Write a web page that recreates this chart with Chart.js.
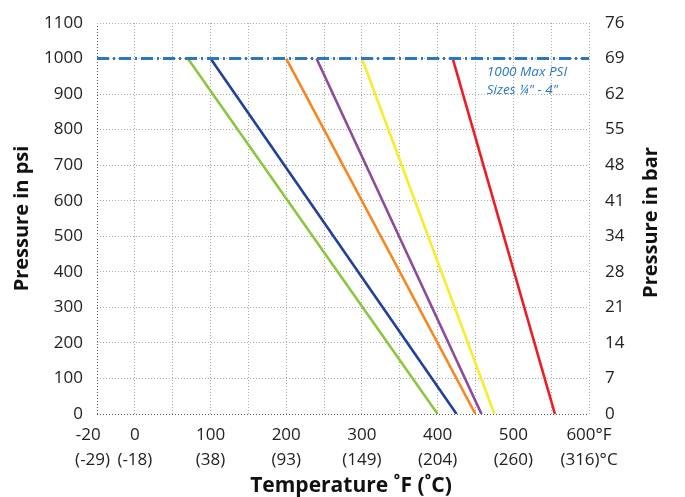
<!DOCTYPE html>
<html>
<head>
<meta charset="utf-8">
<script src="https://cdn.jsdelivr.net/npm/chart.js@4.4.0/dist/chart.umd.min.js"></script>
<style>
    html, body { margin: 0; padding: 0; background: #fff; }
    #wrap { position: relative; width: 685px; height: 497px; }
</style>
</head>
<body>
<div id="wrap"><canvas id="myChart"></canvas></div>
<script>
// x axis: where the labels sit (deg F) and what they print
const tempTicks = [-50, 0, 100, 200, 300, 400, 500, 600];
const tempLabelsF = ['-20', '0', '100', '200', '300', '400', '500', '600°F'];
const tempLabelsC = ['(-29)', '(-18)', '(38)', '(93)', '(149)', '(204)', '(260)', '(316)°C'];

// y axes
const psiTicks = [0, 100, 200, 300, 400, 500, 600, 700, 800, 900, 1000, 1100];
const barTicks = [0, 7, 14, 21, 28, 34, 41, 48, 55, 62, 69, 76];

const maxPsi = 1000;
const maxNote = ['1000 Max PSI', 'Sizes ¼" - 4"'];

// rating lines: temperature at 1000 psi and at 0 psi
const lineColors = ['#8cc63f', '#21409a', '#f7861f', '#8b4a9c', '#f8ec2c', '#ed1c24'];
const tempAtMax = [70, 100, 200, 240, 300, 420];
const tempAtZero = [400, 425, 450, 458, 475, 555];

Chart.defaults.font.family = "'Open Sans', sans-serif";
Chart.defaults.color = '#222';

const datasets = [{
    data: [{x: -50, y: maxPsi}, {x: 600, y: maxPsi}],
    borderColor: '#2a78c2',
    borderWidth: 3,
    borderDash: [12, 4, 2, 4],
    pointRadius: 0
}];
lineColors.forEach((c, i) => {
    datasets.push({
        data: [{x: tempAtMax[i], y: maxPsi}, {x: tempAtZero[i], y: 0}],
        borderColor: c,
        borderWidth: 2.6,
        pointRadius: 0
    });
});

const gridColor = edges => ctx => (ctx.tick && edges.includes(ctx.tick.value)) ? '#555' : '#aaa';

const extras = {
    id: 'extras',
    afterDatasetsDraw(chart) {
        const ctx = chart.ctx;
        const xs = chart.scales.x, ys = chart.scales.y;
        const area = chart.chartArea;
        ctx.save();
        ctx.fillStyle = '#2a78c2';
        ctx.font = "italic 13.5px 'Open Sans'";
        ctx.textAlign = 'left';
        ctx.textBaseline = 'middle';
        ctx.fillText(maxNote[0], xs.getPixelForValue(465), ys.getPixelForValue(962));
        ctx.fillText(maxNote[1], xs.getPixelForValue(465), ys.getPixelForValue(911));
        ctx.restore();

        ctx.save();
        ctx.fillStyle = '#111';
        ctx.font = "bold 21px 'Open Sans'";
        ctx.textAlign = 'center';
        ctx.textBaseline = 'middle';
        // bottom title sits a little right of the plot centre
        ctx.fillText('Temperature ˚F (˚C)', 351, 486);
        // right axis title reads bottom to top like the left one
        ctx.translate(651, (area.top + area.bottom) / 2 + 4);
        ctx.rotate(-Math.PI / 2);
        ctx.font = "bold 20px 'Open Sans'";
        ctx.fillText('Pressure in bar', 0, 0);
        ctx.restore();
    }
};

const noPad = scale => { scale.paddingTop = 0; scale.paddingBottom = 0; };

new Chart(document.getElementById('myChart'), {
    type: 'scatter',
    data: { datasets: datasets },
    options: {
        responsive: true,
        maintainAspectRatio: false,
        animation: false,
        showLine: true,
        layout: { padding: { top: 23, right: 0, bottom: 0, left: 0 } },
        plugins: {
            legend: { display: false },
            tooltip: { enabled: false }
        },
        scales: {
            x: {
                type: 'linear',
                min: -50,
                max: 600,
                afterBuildTicks: scale => {
                    scale.ticks = [];
                    for (let v = -50; v <= 600; v += 50) scale.ticks.push({value: v});
                },
                afterFit: scale => { scale.height = 83; },
                ticks: {
                    autoSkip: false,
                    maxRotation: 0,
                    padding: 8,
                    font: { size: 17, lineHeight: 1.5 },
                    callback: v => {
                        const i = tempTicks.indexOf(v);
                        if (i < 0) return '';
                        // first label is printed slightly left of the plot edge
                        if (i === 0) return [tempLabelsF[i] + '    ', tempLabelsC[i] + '  '];
                        return [tempLabelsF[i], tempLabelsC[i]];
                    }
                },
                grid: { color: gridColor([-50]), drawTicks: false, lineWidth: 1 },
                border: { display: false, dash: [1, 2] }
            },
            y: {
                position: 'left',
                min: 0,
                max: 1100,
                afterBuildTicks: scale => { scale.ticks = psiTicks.map(v => ({value: v})); },
                afterFit: scale => { scale.width = 97; noPad(scale); },
                ticks: {
                    padding: 14,
                    font: { size: 17 },
                    callback: v => String(v)
                },
                grid: { color: gridColor([0]), drawTicks: false, lineWidth: 1 },
                border: { display: false, dash: [1, 2] },
                title: {
                    display: true,
                    text: 'Pressure in psi',
                    color: '#111',
                    font: { size: 20, weight: 'bold' },
                    padding: { top: 10, bottom: 0 }
                }
            },
            y2: {
                position: 'right',
                min: 0,
                max: 1100,
                afterBuildTicks: scale => { scale.ticks = psiTicks.map(v => ({value: v})); },
                afterFit: scale => { scale.width = 96; noPad(scale); },
                ticks: {
                    padding: 16,
                    font: { size: 17 },
                    callback: v => String(barTicks[psiTicks.indexOf(v)])
                },
                grid: { drawOnChartArea: false, drawTicks: false },
                border: { display: false }
            }
        }
    },
    plugins: [extras]
});
</script>
</body>
</html>
